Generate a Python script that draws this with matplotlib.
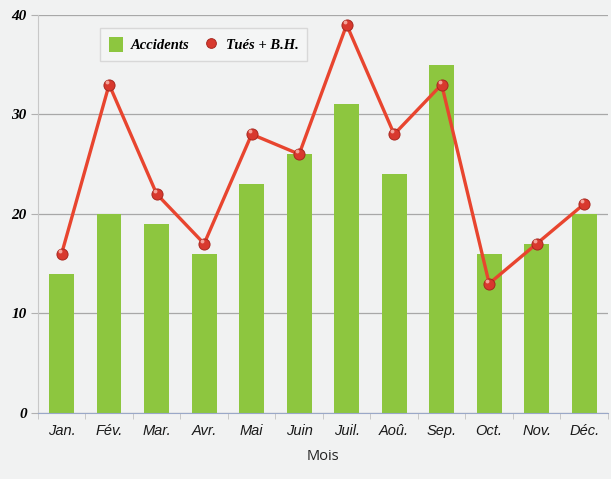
import matplotlib
matplotlib.use("Agg")
import matplotlib.pyplot as plt
from matplotlib.lines import Line2D
from matplotlib.patches import Patch
import numpy as np

months = ["Jan.", "Fév.", "Mar.", "Avr.", "Mai", "Juin", "Juil.", "Aoû.", "Sep.", "Oct.", "Nov.", "Déc."]
accidents = [14, 20, 19, 16, 23, 26, 31, 24, 35, 16, 17, 20]
tues_bh = [16, 33, 22, 17, 28, 26, 39, 28, 33, 13, 17, 21]
y_ticks = [0, 10, 20, 30, 40]

bg = "#f1f2f2"
bar_color = "#8dc63f"
fig = plt.figure(figsize=(6.11, 4.79), dpi=100, facecolor=bg)
ax = fig.add_axes([0.062, 0.138, 0.933, 0.831])
ax.set_facecolor(bg)

x = np.arange(len(months))
ax.bar(x, accidents, width=0.52, color=bar_color, zorder=2)
ax.plot(x, tues_bh, color="#e8452f", lw=2.4, zorder=3)
ax.plot(x, tues_bh, ls="none", marker="o", markersize=8,
        markerfacecolor="#d8392e", markeredgecolor="#a82820", markeredgewidth=0.7, zorder=4)
ax.plot(x - 0.04, np.array(tues_bh) + 0.3, ls="none", marker="o", markersize=2.8,
        markerfacecolor="#f4a49a", markeredgewidth=0, zorder=5)

ax.set_xlim(-0.5, len(months) - 0.5)
ax.set_ylim(0, 40)
ax.set_yticks(y_ticks)
ax.set_yticklabels([str(v) for v in y_ticks], family="Liberation Serif",
                   fontweight="bold", fontstyle="italic", fontsize=11)
ax.set_xticks(x)
ax.set_xticklabels(months, family="Liberation Sans", fontstyle="italic",
                   fontsize=10.5, color="#1a1a1a")
ax.set_xticks(np.arange(-0.5, len(months), 1), minor=True)
ax.tick_params(axis="x", which="major", length=0, pad=8)
ax.tick_params(axis="x", which="minor", length=4, color="#c0c0c0")
ax.tick_params(axis="y", length=5, color="#b0b0b0", pad=3)

ax.grid(axis="y", color="#a8a8a8", lw=0.9, zorder=0)
ax.set_axisbelow(True)
for s in ["top", "right"]:
    ax.spines[s].set_visible(False)
ax.spines["left"].set_color("#c8c8c8")
ax.spines["bottom"].set_color("#9aa8c8")

ax.set_xlabel("Mois", family="Open Sans", fontsize=10.5, labelpad=8, color="#222222")

handles = [
    Patch(facecolor=bar_color, edgecolor="none", label="Accidents"),
    Line2D([], [], ls="none", marker="o", markersize=7, markerfacecolor="#d8392e",
           markeredgecolor="#a82820", markeredgewidth=0.7, label="Tués + B.H."),
]
leg = ax.legend(handles=handles, loc="upper left", bbox_to_anchor=(0.109, 0.967), borderaxespad=0,
                ncol=2, frameon=True, fancybox=False, edgecolor="#d8d8d8",
                facecolor="#f4f5f5", framealpha=1,
                prop={"family": "Liberation Serif", "style": "italic", "weight": "bold", "size": 10.5},
                handlelength=1.0, handleheight=1.2, columnspacing=1.0, handletextpad=0.5,
                borderpad=0.6)

fig.savefig("out.png", dpi=100, facecolor=bg)
